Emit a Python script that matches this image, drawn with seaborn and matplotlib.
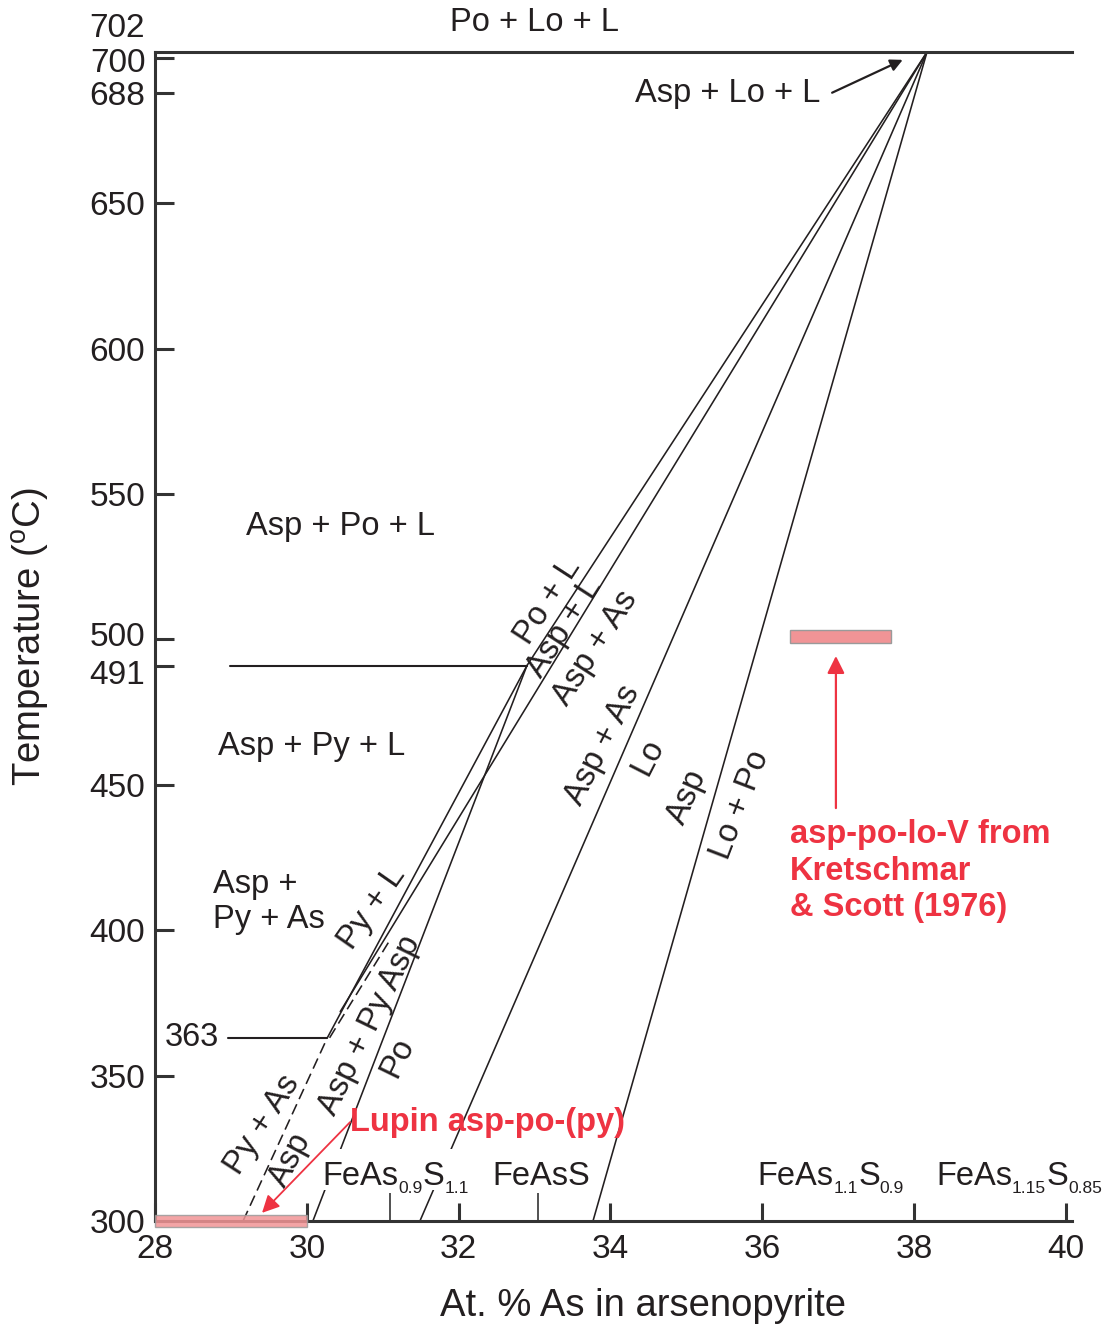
import matplotlib
matplotlib.use("Agg")
import matplotlib.pyplot as plt
import matplotlib.transforms as mtransforms
from matplotlib.patches import Rectangle
import seaborn as sns

# ---- phase boundaries in the Fe-As-S system (At.% As in arsenopyrite, T in deg C)
asp_po_l_x = [38.17, 32.90]
asp_po_l_T = [702, 491]
asp_l_x = [38.17, 30.44]
asp_l_T = [702, 372]
asp_lo_x = [38.17, 31.49]
asp_lo_T = [702, 300]
lo_po_x = [38.17, 33.77]
lo_po_T = [702, 300]
py_l_x = [32.90, 30.27]
py_l_T = [491, 363]
asp_py_po_x = [32.90, 30.08]
asp_py_po_T = [491, 300]

# metastable / inferred boundaries (dashed)
py_as_x = [29.16, 30.27]
py_as_T = [300, 363]
py_as_ext_x = [30.30, 31.08]
py_as_ext_T = [363, 396]

# isothermal invariant lines
t491_x = [28.99, 32.90]
t491_T = [491, 491]
t363_x = [28.96, 30.27]
t363_T = [363, 363]

# temperature ranges of natural / experimental assemblages
lupin_x = [28.0, 30.0]
lupin_T = 300
ks_x = [36.37, 37.70]
ks_T = 501

y_ticks = [300, 350, 400, 450, 491, 500, 550, 600, 650, 688, 700]
x_ticks = [28, 30, 32, 34, 36, 38, 40]
formula_x = [31.1, 33.05]
# arsenopyrite stoichiometries: (left x, [(text, is_subscript), ...])
formulas = [
    (30.21, [("FeAs", False), ("0.9", True), ("S", False), ("1.1", True)]),
    (32.44, [("FeAsS", False)]),
    (35.94, [("FeAs", False), ("1.1", True), ("S", False), ("0.9", True)]),
    (38.29, [("FeAs", False), ("1.15", True), ("S", False), ("0.85", True)]),
]

INK = "#231F20"
RED = "#EE3342"
PINK = "#F19496"

sns.set_theme(style="white")
plt.rcParams["font.family"] = ["Liberation Sans", "DejaVu Sans"]
plt.rcParams["mathtext.fontset"] = "custom"
plt.rcParams["mathtext.rm"] = "Liberation Sans"
plt.rcParams["mathtext.default"] = "regular"

fig = plt.figure(figsize=(11.05, 13.29), dpi=100)
ax = fig.add_axes([0.14027, 0.08126, 0.82986, 0.87961])
ax.set_xlim(28, 40.08)
ax.set_ylim(300, 702)

lw = 1.15
for xs, ts in [(asp_po_l_x, asp_po_l_T), (asp_l_x, asp_l_T), (asp_lo_x, asp_lo_T),
               (lo_po_x, lo_po_T), (py_l_x, py_l_T), (asp_py_po_x, asp_py_po_T)]:
    sns.lineplot(x=xs, y=ts, ax=ax, color=INK, lw=lw, estimator=None, sort=False)

for xs, ts in [(py_as_x, py_as_T), (py_as_ext_x, py_as_ext_T)]:
    sns.lineplot(x=xs, y=ts, ax=ax, color=INK, lw=lw, estimator=None, sort=False,
                 linestyle=(0, (7, 3.5)))

for xs, ts in [(t491_x, t491_T), (t363_x, t363_T)]:
    sns.lineplot(x=xs, y=ts, ax=ax, color=INK, lw=1.5, estimator=None, sort=False)

# assemblage temperature bars
ax.barh([lupin_T], [lupin_x[1] - lupin_x[0]], left=[lupin_x[0]], height=4.4,
        color=PINK, alpha=0.85, edgecolor="#9a9a9a", lw=1.0, clip_on=False, zorder=4)
ax.barh([ks_T], [ks_x[1] - ks_x[0]], left=[ks_x[0]], height=4.2,
        color=PINK, edgecolor="#9a9a9a", lw=1.0, zorder=4)

# axes styling
for side in ["left", "bottom", "top"]:
    ax.spines[side].set_color("#333333")
    ax.spines[side].set_linewidth(2.2)
ax.spines["right"].set_visible(False)

ax.set_yticks(y_ticks)
ax.set_yticklabels([str(v) for v in y_ticks])
ax.set_xticks(x_ticks)
ax.set_xticklabels([str(v) for v in x_ticks])
ax.set_xticks(formula_x, minor=True)
ax.tick_params(axis="y", which="major", direction="in", length=14, width=2.2,
               color="#333333", labelsize=24, labelcolor=INK, pad=7, left=True)
ax.tick_params(axis="x", which="major", direction="in", length=13, width=2.2,
               color="#333333", labelsize=24, labelcolor=INK, pad=9, bottom=True)
ax.tick_params(axis="x", which="minor", direction="in", length=20, width=1.2,
               color="#333333", bottom=True)

# nudge crowded temperature labels apart
nudges = {500: 5, 491: -6, 700: -2}
for tick, val in zip(ax.yaxis.get_major_ticks(), y_ticks):
    if val in nudges:
        lab = tick.label1
        lab.set_transform(lab.get_transform() + mtransforms.ScaledTranslation(
            0, nudges[val] / 100, fig.dpi_scale_trans))

ax.text(27.87, 710.0, "702", ha="right", va="center", fontsize=24, color=INK,
        clip_on=False)

ax.set_xlabel("At. % As in arsenopyrite", fontsize=27.5, color=INK)
ax.xaxis.set_label_coords(0.532, -0.057)
ax.set_ylabel("Temperature ($^{o}$C)", fontsize=27.5, color=INK, labelpad=27)

# composition reference labels
ax.add_patch(Rectangle((30.15, 310.6), 1.83, 14.0, facecolor="white",
                       edgecolor="none", zorder=3))
base_T = 312.4
for x0, parts in formulas:
    first = ax.text(x0, base_T, parts[0][0], ha="left", va="baseline", fontsize=23.5,
                    color=INK, zorder=5, clip_on=False)
    prev = first
    for txt, sub in parts[1:]:
        prev = ax.annotate(txt, xy=(1, base_T), xycoords=(prev, "data"),
                           xytext=(0, -6 if sub else 0), textcoords="offset points",
                           ha="left", va="baseline", fontsize=12.5 if sub else 23.5,
                           color=INK, zorder=5, annotation_clip=False)

# field labels
fs = 23.5
ax.text(33.0, 712.3, "Po + Lo + L", ha="center", va="center", fontsize=fs,
        color=INK, clip_on=False)
ax.text(35.55, 687.8, "Asp + Lo + L", ha="center", va="center", fontsize=fs, color=INK)
ax.annotate("", xy=(37.85, 699.3), xytext=(36.92, 688.0),
            arrowprops=dict(arrowstyle="-|>", color=INK, lw=1.6,
                            mutation_scale=18, shrinkA=0, shrinkB=0))
ax.text(30.44, 538.9, "Asp + Po + L", ha="center", va="center", fontsize=fs, color=INK)
ax.text(30.06, 463.3, "Asp + Py + L", ha="center", va="center", fontsize=fs, color=INK)
ax.text(28.76, 409.7, "Asp +\nPy + As", ha="left", va="center", fontsize=fs,
        color=INK, linespacing=1.15)
ax.text(28.49, 363, "363", ha="center", va="center", fontsize=fs, color=INK)

rotated = [
    ("Po + L", 33.18, 513.2, 57),
    ("Asp + L", 33.40, 503.9, 57),
    ("Asp + As", 33.80, 497.0, 57),
    ("Asp + As", 33.90, 463.7, 63),
    ("Lo", 34.50, 459.5, 63),
    ("Asp", 35.01, 445.8, 66),
    ("Lo + Po", 35.71, 443.0, 69),
    ("Py + L", 30.86, 407.6, 55),
    ("Asp + Py Asp", 30.83, 367.4, 64),
    ("Po", 31.20, 356.4, 64),
    ("Py + As", 29.41, 333.0, 57),
    ("Asp", 29.78, 321.0, 62),
]
for lab, x, t, rot in rotated:
    ax.text(x, t, lab, ha="center", va="center", rotation=rot,
            rotation_mode="anchor", fontsize=fs, color=INK)

# red annotations
ax.text(30.57, 334.0, "Lupin asp-po-(py)", ha="left", va="center", fontsize=23.5,
        fontweight="bold", color=RED, zorder=6)
ax.annotate("", xy=(29.41, 302.8), xytext=(30.57, 334.0),
            arrowprops=dict(arrowstyle="-|>", color=RED, lw=1.3,
                            mutation_scale=26, shrinkA=0, shrinkB=0), zorder=6)
ax.annotate("", xy=(36.97, 494.3), xytext=(36.97, 442.0),
            arrowprops=dict(arrowstyle="-|>", color=RED, lw=1.6,
                            mutation_scale=26, shrinkA=0, shrinkB=0))
ax.text(36.37, 420.3, "asp-po-lo-V from\nKretschmar\n& Scott (1976)", ha="left",
        va="center", fontsize=23.5, fontweight="bold", color=RED, linespacing=1.22)

fig.savefig("out.png", dpi=100)
